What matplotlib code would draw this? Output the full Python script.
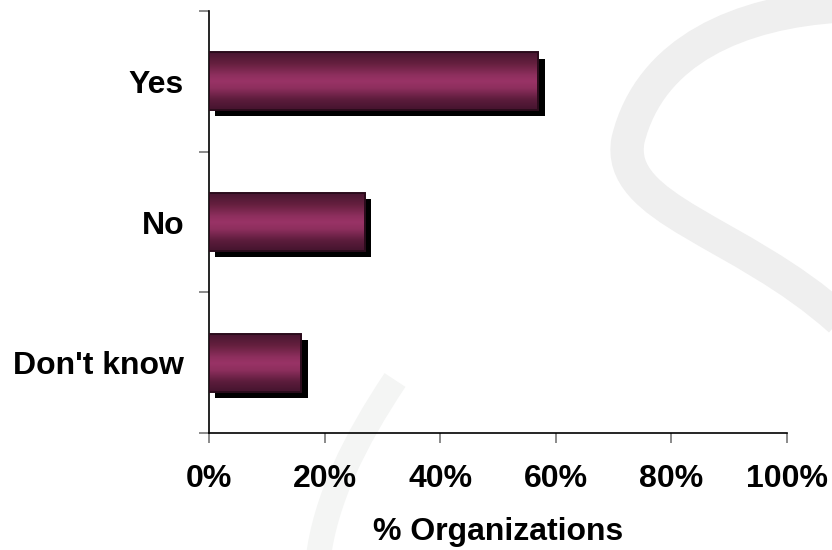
import matplotlib
matplotlib.use("Agg")
import matplotlib.pyplot as plt
import matplotlib.transforms as mtransforms
from matplotlib.colors import LinearSegmentedColormap
from matplotlib.path import Path
from matplotlib.patches import PathPatch
import numpy as np

plt.rcParams['font.family'] = ['Liberation Sans', 'DejaVu Sans']
plt.rcParams['font.weight'] = 'bold'

# data
categories = ['Yes', 'No', "Don't know"]
values = [57, 27, 16]
xticks = [0, 20, 40, 60, 80, 100]
xtick_labels = ['0%', '20%', '40%', '60%', '80%', '100%']
xlabel = '% Organizations'

fig = plt.figure(figsize=(8.32, 5.5), dpi=100)
fig.patch.set_facecolor('white')

# faint grey "S" watermark in the background (figure coords)
W, H = 832.0, 550.0
def fig_pt(x, y):
    return (x / W, 1 - y / H)

upper = [(840, 6), (740, 12), (650, 50), (628, 140), (615, 210), (740, 230), (840, 320)]
p = Path([fig_pt(*v) for v in upper], [Path.MOVETO] + [Path.CURVE4] * 6)
fig.patches.append(PathPatch(p, transform=fig.transFigure, fill=False,
                             edgecolor='#efefef', lw=24, capstyle='butt', zorder=-5))
lower = [(395, 380), (355, 440), (325, 500), (318, 560)]
p2 = Path([fig_pt(*v) for v in lower], [Path.MOVETO] + [Path.CURVE4] * 3)
fig.patches.append(PathPatch(p2, transform=fig.transFigure, fill=False,
                             edgecolor='#f4f5f4', lw=18, capstyle='butt', zorder=-5))

ax = fig.add_axes([209 / W, 1 - 433 / H, 578 / W, 422 / H])
ax.set_zorder(2)
ax.patch.set_alpha(0)

ypos = np.arange(len(categories))
bar_h = 0.41

# shadows
shadow_tr = ax.transData + mtransforms.ScaledTranslation(4.5 / 72, -4.5 / 72, fig.dpi_scale_trans)
ax.barh(ypos, values, height=bar_h, color='black', transform=shadow_tr, zorder=2)

# main bars with vertical gradient
bars = ax.barh(ypos, values, height=bar_h, color='none', edgecolor='#2b0c1c',
               linewidth=1.4, zorder=4)
cmap = LinearSegmentedColormap.from_list('maroon', [
    (0.0, '#471530'), (0.2, '#66203f'), (0.4, '#8e2f5e'), (0.5, '#993366'),
    (0.62, '#8e2f5e'), (0.82, '#5c1c3c'), (1.0, '#44142e')])
grad = np.linspace(0, 1, 256).reshape(-1, 1)
for b in bars:
    x0, y0 = b.get_x(), b.get_y()
    w, h = b.get_width(), b.get_height()
    im = ax.imshow(grad, cmap=cmap, aspect='auto', origin='upper',
                   extent=[x0, x0 + w, y0 + h, y0], zorder=3, interpolation='bilinear')
    im.set_clip_path(b)

ax.set_xlim(0, 100)
ax.set_ylim(len(categories) - 0.5, -0.5)

ax.set_xticks(xticks)
ax.set_xticklabels(xtick_labels, fontsize=23, fontweight='bold')
ax.tick_params(axis='x', direction='out', length=7, width=1.2, color='#777777', pad=15)

ax.set_yticks(np.arange(len(categories) + 1) - 0.5)
ax.set_yticklabels([])
ax.set_yticks(ypos, minor=True)
ax.set_yticklabels(categories, minor=True, fontsize=23, fontweight='bold')
ax.tick_params(axis='y', which='major', direction='out', length=7.5, width=1.2, color='#777777')
ax.tick_params(axis='y', which='minor', length=0, pad=18)

for s in ['top', 'right']:
    ax.spines[s].set_visible(False)
for s in ['left', 'bottom']:
    ax.spines[s].set_linewidth(1.2)
    ax.spines[s].set_color('black')

ax.set_xlabel(xlabel, fontsize=23, fontweight='bold', labelpad=17)

fig.savefig('out.png', dpi=100, facecolor='white')
